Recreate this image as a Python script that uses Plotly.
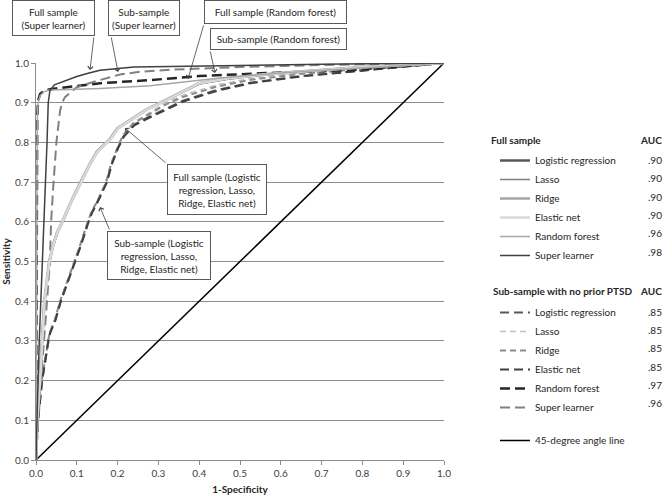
import plotly.graph_objects as go

# ---------------- data ----------------
full_lr_x = [0, 0.003, 0.009, 0.015, 0.021, 0.027, 0.033, 0.042, 0.053, 0.065, 0.086, 0.11, 0.132, 0.15, 0.18, 0.2, 0.23, 0.27, 0.33, 0.4, 0.47, 0.55, 0.65, 0.8, 1.0]
full_lr_y = [0, 0.1, 0.2, 0.3, 0.4, 0.45, 0.5, 0.54, 0.575, 0.6, 0.65, 0.7, 0.745, 0.777, 0.806, 0.835, 0.855, 0.882, 0.912, 0.948, 0.96, 0.97, 0.978, 0.989, 1.0]
full_lasso_x = [0, 0.003, 0.01, 0.016, 0.022, 0.028, 0.034, 0.043, 0.054, 0.066, 0.087, 0.112, 0.133, 0.152, 0.182, 0.202, 0.232, 0.272, 0.332, 0.402, 0.47, 0.55, 0.65, 0.8, 1.0]
full_lasso_y = [0, 0.1, 0.2, 0.3, 0.4, 0.45, 0.5, 0.54, 0.575, 0.6, 0.65, 0.7, 0.745, 0.777, 0.806, 0.835, 0.855, 0.882, 0.912, 0.948, 0.96, 0.97, 0.978, 0.989, 1.0]
full_ridge_x = [0, 0.003, 0.009, 0.015, 0.02, 0.026, 0.032, 0.041, 0.052, 0.064, 0.085, 0.109, 0.131, 0.149, 0.179, 0.199, 0.229, 0.269, 0.329, 0.4, 0.47, 0.55, 0.65, 0.8, 1.0]
full_ridge_y = [0, 0.1, 0.2, 0.3, 0.4, 0.45, 0.5, 0.54, 0.575, 0.6, 0.65, 0.7, 0.745, 0.777, 0.806, 0.835, 0.855, 0.882, 0.913, 0.95, 0.962, 0.971, 0.979, 0.99, 1.0]
full_en_x = [0, 0.003, 0.01, 0.016, 0.021, 0.027, 0.033, 0.042, 0.053, 0.065, 0.086, 0.111, 0.132, 0.151, 0.181, 0.201, 0.231, 0.271, 0.331, 0.401, 0.47, 0.55, 0.65, 0.8, 1.0]
full_en_y = [0, 0.1, 0.2, 0.3, 0.4, 0.45, 0.5, 0.54, 0.575, 0.6, 0.65, 0.7, 0.745, 0.777, 0.806, 0.835, 0.855, 0.882, 0.912, 0.949, 0.961, 0.97, 0.978, 0.989, 1.0]
full_rf_x = [0, 0.001, 0.002, 0.003, 0.005, 0.01, 0.02, 0.034, 0.1, 0.157, 0.28, 0.37, 0.45, 0.6, 0.8, 1.0]
full_rf_y = [0, 0.3, 0.6, 0.85, 0.9, 0.918, 0.928, 0.932, 0.934, 0.936, 0.943, 0.954, 0.962, 0.975, 0.988, 1.0]
full_sl_x = [0, 0.002, 0.005, 0.008, 0.012, 0.016, 0.02, 0.024, 0.027, 0.03, 0.034, 0.045, 0.075, 0.1, 0.13, 0.157, 0.24, 0.33, 0.5, 0.7, 1.0]
full_sl_y = [0, 0.1, 0.2, 0.3, 0.4, 0.5, 0.6, 0.7, 0.8, 0.9, 0.93, 0.945, 0.957, 0.966, 0.975, 0.982, 0.99, 0.992, 0.994, 0.997, 1.0]

sub_lr_x = [0, 0.005, 0.015, 0.03, 0.034, 0.047, 0.06, 0.079, 0.096, 0.108, 0.128, 0.136, 0.155, 0.173, 0.185, 0.2, 0.214, 0.24, 0.28, 0.32, 0.36, 0.443, 0.524, 0.647, 0.8, 1.0]
sub_lr_y = [0, 0.1, 0.2, 0.3, 0.32, 0.353, 0.4, 0.453, 0.5, 0.537, 0.6, 0.622, 0.66, 0.7, 0.745, 0.785, 0.815, 0.845, 0.866, 0.886, 0.905, 0.932, 0.95, 0.967, 0.982, 1.0]
sub_lasso_x = [0, 0.005, 0.014, 0.029, 0.033, 0.046, 0.059, 0.077, 0.094, 0.106, 0.126, 0.134, 0.153, 0.171, 0.183, 0.198, 0.212, 0.238, 0.278, 0.318, 0.358, 0.44, 0.52, 0.64, 0.8, 1.0]
sub_lasso_y = [0, 0.1, 0.2, 0.3, 0.32, 0.353, 0.4, 0.453, 0.5, 0.537, 0.6, 0.622, 0.66, 0.7, 0.745, 0.785, 0.818, 0.85, 0.875, 0.9, 0.918, 0.944, 0.96, 0.975, 0.987, 1.0]
sub_ridge_x = [0, 0.005, 0.014, 0.029, 0.033, 0.046, 0.059, 0.078, 0.095, 0.107, 0.127, 0.135, 0.154, 0.172, 0.184, 0.199, 0.213, 0.239, 0.279, 0.319, 0.359, 0.441, 0.522, 0.645, 0.8, 1.0]
sub_ridge_y = [0, 0.1, 0.2, 0.3, 0.32, 0.353, 0.4, 0.453, 0.5, 0.537, 0.6, 0.622, 0.66, 0.7, 0.745, 0.785, 0.817, 0.848, 0.872, 0.896, 0.914, 0.94, 0.957, 0.972, 0.985, 1.0]
sub_en_x = [0, 0.005, 0.015, 0.03, 0.035, 0.048, 0.061, 0.08, 0.097, 0.109, 0.129, 0.137, 0.156, 0.174, 0.186, 0.201, 0.215, 0.241, 0.281, 0.321, 0.361, 0.444, 0.525, 0.648, 0.8, 1.0]
sub_en_y = [0, 0.1, 0.2, 0.3, 0.32, 0.353, 0.4, 0.453, 0.5, 0.537, 0.6, 0.622, 0.66, 0.7, 0.745, 0.785, 0.814, 0.843, 0.864, 0.884, 0.903, 0.93, 0.949, 0.966, 0.981, 1.0]
sub_rf_x = [0, 0.001, 0.002, 0.003, 0.005, 0.01, 0.02, 0.034, 0.1, 0.157, 0.28, 0.4, 0.55, 0.77, 1.0]
sub_rf_y = [0, 0.3, 0.6, 0.86, 0.905, 0.922, 0.93, 0.934, 0.942, 0.949, 0.957, 0.967, 0.974, 0.982, 1.0]
sub_sl_x = [0, 0.005, 0.012, 0.02, 0.027, 0.034, 0.037, 0.043, 0.05, 0.059, 0.064, 0.071, 0.085, 0.1, 0.149, 0.206, 0.255, 0.33, 0.5, 0.7, 1.0]
sub_sl_y = [0, 0.1, 0.2, 0.3, 0.4, 0.5, 0.6, 0.7, 0.8, 0.88, 0.9, 0.914, 0.927, 0.939, 0.955, 0.971, 0.978, 0.983, 0.99, 0.995, 1.0]

diag_x = [0, 1]
diag_y = [0, 1]

model_names = ["Logistic regression", "Lasso", "Ridge", "Elastic net", "Random forest", "Super learner"]
full_auc = [".90", ".90", ".90", ".90", ".96", ".98"]
sub_auc = [".85", ".85", ".85", ".85", ".97", ".96"]
x_ticks = [0.0, 0.1, 0.2, 0.3, 0.4, 0.5, 0.6, 0.7, 0.8, 0.9, 1.0]
y_ticks = [0.0, 0.1, 0.2, 0.3, 0.4, 0.5, 0.6, 0.7, 0.8, 0.9, 1.0]

FONT = "Lato"
FS = 10
TXT = "#262626"
W, H = 666, 495
L, R, T, B = 36, 222, 63, 35
PW, PH = W - L - R, H - T - B


def px2x(px):
    return (px - L) / PW


def py2y(py):
    return (T + PH - py) / PH


full_x = [full_lr_x, full_lasso_x, full_ridge_x, full_en_x, full_rf_x, full_sl_x]
full_y = [full_lr_y, full_lasso_y, full_ridge_y, full_en_y, full_rf_y, full_sl_y]
sub_x = [sub_lr_x, sub_lasso_x, sub_ridge_x, sub_en_x, sub_rf_x, sub_sl_x]
sub_y = [sub_lr_y, sub_lasso_y, sub_ridge_y, sub_en_y, sub_rf_y, sub_sl_y]

full_styles = [
    dict(color="#595959", width=2.5),
    dict(color="#7f7f7f", width=1.5),
    dict(color="#a6a6a6", width=2.5),
    dict(color="#d9d9d9", width=2.5),
    dict(color="#a6a6a6", width=1.5),
    dict(color="#404040", width=1.5),
]
sub_styles = [
    dict(color="#595959", width=2, dash="9px,5px"),
    dict(color="#bfbfbf", width=1.5, dash="6px,4px"),
    dict(color="#8c8c8c", width=2, dash="6px,4px"),
    dict(color="#404040", width=2, dash="9px,5px"),
    dict(color="#262626", width=2.5, dash="10px,5px"),
    dict(color="#808080", width=2, dash="10px,5px"),
]

fig = go.Figure()
fig.add_trace(go.Scatter(x=diag_x, y=diag_y, mode="lines", name="45-degree angle line",
                         line=dict(color="black", width=1.5), legend="legend3"))
for i in range(6):
    fig.add_trace(go.Scatter(x=sub_x[i], y=sub_y[i], mode="lines", name=model_names[i],
                             line=sub_styles[i], legend="legend2"))
for i in range(6):
    fig.add_trace(go.Scatter(x=full_x[i], y=full_y[i], mode="lines", name=model_names[i],
                             line=full_styles[i], legend="legend"))

leg_common = dict(font=dict(family=FONT, size=FS, color=TXT), bgcolor="rgba(0,0,0,0)",
                  xanchor="left", yanchor="top", itemwidth=30, traceorder="normal")
leg_x = px2x(495)

annotations = []
# legend headers
annotations.append(dict(text="<b>Full sample</b>", x=px2x(489), y=py2y(140), xref="paper", yref="paper",
                        xanchor="left", yanchor="middle", showarrow=False,
                        font=dict(family=FONT, size=FS, color=TXT)))
annotations.append(dict(text="<b>Sub-sample with no prior PTSD</b>", x=px2x(491), y=py2y(291), xref="paper",
                        yref="paper", xanchor="left", yanchor="middle", showarrow=False,
                        font=dict(family=FONT, size=FS, color=TXT)))
for ypx in (140, 291):
    annotations.append(dict(text="<b>AUC</b>", x=px2x(664), y=py2y(ypx), xref="paper", yref="paper",
                            xanchor="right", yanchor="middle", showarrow=False,
                            font=dict(family=FONT, size=FS, color=TXT)))
full_rows = [160, 178.3, 196.7, 215, 233.3, 251.7]
sub_rows = [311.7, 330, 348.3, 366.7, 385, 403.3]
for v, ypx in zip(full_auc, full_rows):
    annotations.append(dict(text=v, x=px2x(655), y=py2y(ypx), xref="paper", yref="paper",
                            xanchor="center", yanchor="middle", showarrow=False,
                            font=dict(family=FONT, size=FS, color=TXT)))
for v, ypx in zip(sub_auc, sub_rows):
    annotations.append(dict(text=v, x=px2x(655), y=py2y(ypx), xref="paper", yref="paper",
                            xanchor="center", yanchor="middle", showarrow=False,
                            font=dict(family=FONT, size=FS, color=TXT)))

# callout boxes (left, top, right, bottom in px) and arrows (tail -> tip in px)
boxes = [
    ("Full sample<br>(Super learner)", (12, 0, 95, 36)),
    ("Sub-sample<br>(Super learner)", (108, 0, 180, 36)),
    ("Full sample (Random forest)", (204, 0, 347, 24)),
    ("Sub-sample (Random forest)", (210, 28, 347, 50)),
    ("Full sample (Logistic<br>regression, Lasso,<br>Ridge, Elastic net)", (167, 164, 267, 215)),
    ("Sub-sample (Logistic<br>regression, Lasso,<br>Ridge, Elastic net)", (107, 231, 211, 280)),
]
arrows = [
    ((94, 36), (90, 70)),
    ((111, 36), (118, 72)),
    ((204, 24), (188, 79)),
    ((210, 50), (215, 73)),
    ((167, 164), (125, 128)),
    ((110, 231), (100, 207)),
]
for text, (l, t, r, b) in boxes:
    annotations.append(dict(text=text, x=px2x((l + r) / 2), y=py2y((t + b) / 2), xref="paper", yref="paper",
                            xanchor="center", yanchor="middle", showarrow=False,
                            width=r - l - 2, height=b - t - 2, borderpad=0,
                            bordercolor="#595959", borderwidth=1, bgcolor="white",
                            font=dict(family=FONT, size=FS, color=TXT)))
for (tx, ty), (hx, hy) in arrows:
    annotations.append(dict(text="", x=px2x(hx), y=py2y(hy), ax=px2x(tx), ay=py2y(ty),
                            xref="x", yref="y", axref="x", ayref="y", showarrow=True,
                            arrowhead=4, arrowsize=1.3, arrowwidth=0.8, arrowcolor="#404040"))

fig.update_layout(
    width=W, height=H,
    margin=dict(l=L, r=R, t=T, b=B, autoexpand=False),
    paper_bgcolor="white", plot_bgcolor="white",
    font=dict(family=FONT, size=FS, color="#404040"),
    showlegend=True,
    legend=dict(x=leg_x, y=py2y(146), **leg_common),
    legend2=dict(x=leg_x, y=py2y(298), **leg_common),
    legend3=dict(x=leg_x, y=py2y(426), **leg_common),
    annotations=annotations,
)
fig.update_xaxes(range=[0, 1], tickvals=x_ticks, tickformat=".1f", showgrid=False, zeroline=False,
                 showline=True, linecolor="#8c8c8c", linewidth=1, ticks="outside", ticklen=4,
                 tickcolor="#8c8c8c", tickfont=dict(family=FONT, size=FS, color="#404040"),
                 title=dict(text="<b>1-Specificity</b>", standoff=8,
                            font=dict(family=FONT, size=FS, color=TXT)),
                 automargin=False)
fig.update_yaxes(range=[0, 1], tickvals=y_ticks, tickformat=".1f", showgrid=True, gridcolor="#8c8c8c",
                 gridwidth=1, zeroline=False, showline=True, linecolor="#8c8c8c", linewidth=1,
                 ticks="outside", ticklen=4, tickcolor="#8c8c8c",
                 tickfont=dict(family=FONT, size=FS, color="#404040"),
                 title=dict(text="<b>Sensitivity</b>", standoff=6,
                            font=dict(family=FONT, size=FS, color=TXT)),
                 automargin=False)

fig.write_html("out.html", config={"displayModeBar": False},
               post_script="document.body.style.margin='0';")
